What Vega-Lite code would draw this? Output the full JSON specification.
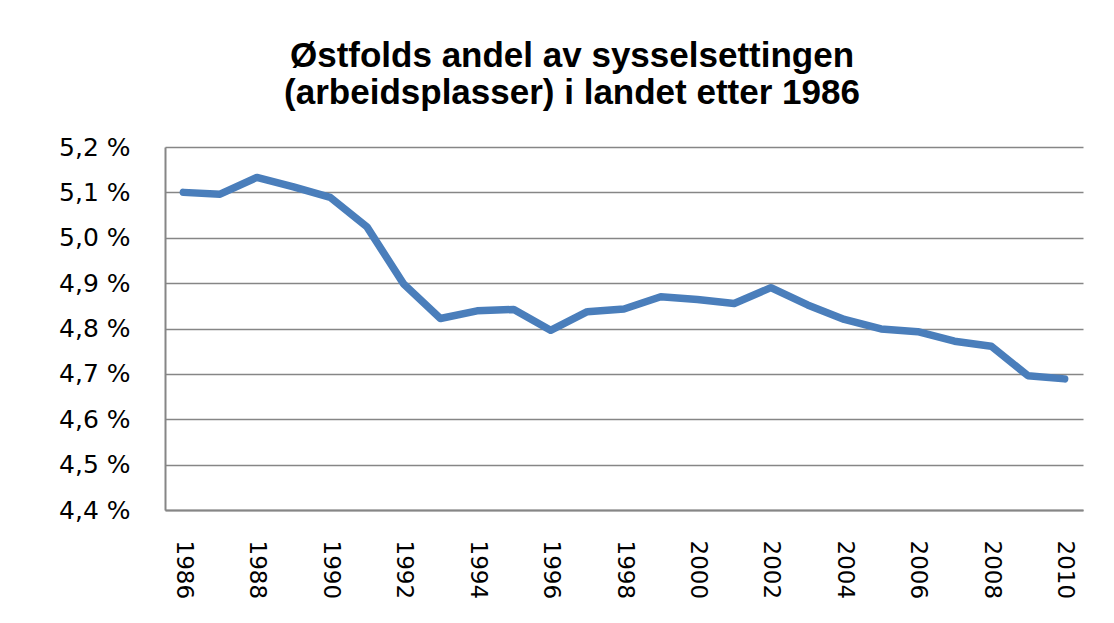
{
  "$schema": "https://vega.github.io/schema/vega-lite/v6.json",
  "autosize": "none",
  "width": 918,
  "height": 363,
  "padding": {"left": 165, "top": 147, "right": 31, "bottom": 113},
  "background": "white",
  "title": {
    "text": ["Østfolds andel av sysselsettingen", "(arbeidsplasser) i landet etter 1986"],
    "font": "Liberation Sans",
    "fontWeight": "bold",
    "fontSize": 35,
    "lineHeight": 37,
    "color": "#000000",
    "anchor": "middle",
    "dx": -52,
    "offset": 24
  },
  "data": {
    "values": [
      {"year": 1986, "share": 5.100},
      {"year": 1987, "share": 5.096},
      {"year": 1988, "share": 5.133},
      {"year": 1989, "share": 5.112},
      {"year": 1990, "share": 5.089},
      {"year": 1991, "share": 5.024},
      {"year": 1992, "share": 4.898},
      {"year": 1993, "share": 4.822},
      {"year": 1994, "share": 4.839},
      {"year": 1995, "share": 4.842},
      {"year": 1996, "share": 4.796},
      {"year": 1997, "share": 4.837},
      {"year": 1998, "share": 4.843},
      {"year": 1999, "share": 4.870},
      {"year": 2000, "share": 4.864},
      {"year": 2001, "share": 4.855},
      {"year": 2002, "share": 4.890},
      {"year": 2003, "share": 4.852},
      {"year": 2004, "share": 4.820},
      {"year": 2005, "share": 4.799},
      {"year": 2006, "share": 4.793},
      {"year": 2007, "share": 4.772},
      {"year": 2008, "share": 4.761},
      {"year": 2009, "share": 4.696},
      {"year": 2010, "share": 4.689}
    ]
  },
  "mark": {"type": "line", "color": "#4a7ebb", "strokeWidth": 7.5, "strokeCap": "round", "strokeJoin": "round"},
  "encoding": {
    "x": {
      "field": "year",
      "type": "ordinal",
      "scale": {"type": "point", "padding": 0.5},
      "axis": {
        "title": null,
        "values": [1986, 1988, 1990, 1992, 1994, 1996, 1998, 2000, 2002, 2004, 2006, 2008, 2010],
        "labelAngle": 90,
        "labelAlign": "left",
        "labelBaseline": "middle",
        "labelFont": "DejaVu Sans",
        "labelFontSize": 23,
        "labelColor": "#000000",
        "labelPadding": 30,
        "ticks": false,
        "domainColor": "#868686",
        "domainWidth": 2,
        "grid": false
      }
    },
    "y": {
      "field": "share",
      "type": "quantitative",
      "scale": {"domain": [4.4, 5.2], "nice": false, "zero": false},
      "axis": {
        "title": null,
        "values": [4.4, 4.5, 4.6, 4.7, 4.8, 4.9, 5.0, 5.1, 5.2],
        "labelExpr": "replace(format(datum.value, '.1f'), '.', ',') + ' %'",
        "labelFont": "DejaVu Sans",
        "labelFontSize": 25,
        "labelColor": "#000000",
        "labelPadding": 35,
        "ticks": false,
        "domainColor": "#868686",
        "domainWidth": 2,
        "grid": true,
        "gridColor": "#868686",
        "gridWidth": 1.5
      }
    }
  },
  "config": {"view": {"stroke": null}}
}
